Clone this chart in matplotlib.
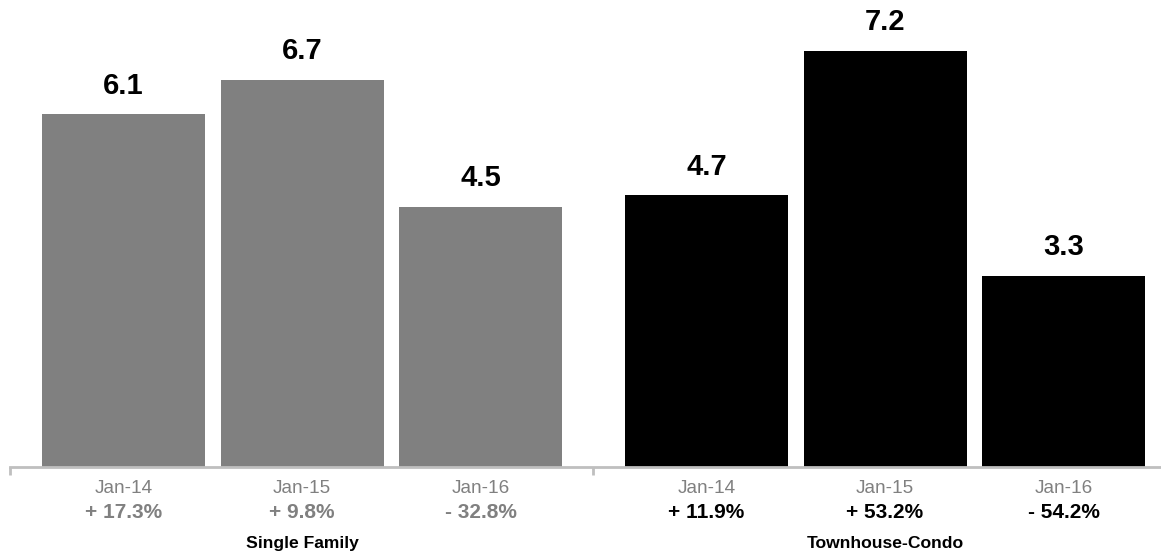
import numpy as np
import matplotlib.pyplot as plt
from matplotlib.transforms import blended_transform_factory

groups = ['Single Family', 'Townhouse-Condo']
months = ['Jan-14', 'Jan-15', 'Jan-16']
values = [[6.1, 6.7, 4.5],
          [4.7, 7.2, 3.3]]
changes = [['+ 17.3%', '+ 9.8%', '- 32.8%'],
           ['+ 11.9%', '+ 53.2%', '- 54.2%']]
bar_colors = ['#808080', '#000000']

plt.rcParams['font.family'] = ['Liberation Sans', 'DejaVu Sans']

W, H = 1161, 555
fig = plt.figure(figsize=(W / 100, H / 100), dpi=100)
# axes runs from x=10px and past the right edge, baseline at y=467px
ax = fig.add_axes([10 / W, 88 / H, 1166 / W, 467 / H])

group_span = 3.266
offset = 0.636
width = 0.913

trans = blended_transform_factory(ax.transData, fig.transFigure)

for g, grp in enumerate(groups):
    x = g * group_span + offset + np.arange(len(months))
    ax.bar(x, values[g], width=width, color=bar_colors[g], zorder=2)
    for xi, v, m, c in zip(x, values[g], months, changes[g]):
        ax.annotate(f'{v:.1f}', (xi, v), xytext=(0, 15), textcoords='offset points',
                    ha='center', va='baseline', fontsize=21, fontweight='bold', color='black')
        ax.text(xi, (H - 493) / H, m, transform=trans, ha='center', va='baseline',
                fontsize=13.7, color='#808080')
        ax.text(xi, (H - 518) / H, c, transform=trans, ha='center', va='baseline',
                fontsize=15, fontweight='bold', color=bar_colors[g])
    ax.text(x[1], (H - 548) / H, grp, transform=trans, ha='center', va='baseline',
            fontsize=12.6, fontweight='bold', color='black')

ax.set_xlim(0, 2 * group_span)
ax.set_ylim(0, 8.08)
ax.set_yticks([])
ax.set_xticks([0, group_span, 2 * group_span])
ax.set_xticklabels([])
ax.tick_params(axis='x', direction='out', length=6, width=2, color='#bfbfbf')
for s in ['top', 'right', 'left']:
    ax.spines[s].set_visible(False)
ax.spines['bottom'].set_color('#bfbfbf')
ax.spines['bottom'].set_linewidth(2)

fig.savefig('out.png', dpi=100)
